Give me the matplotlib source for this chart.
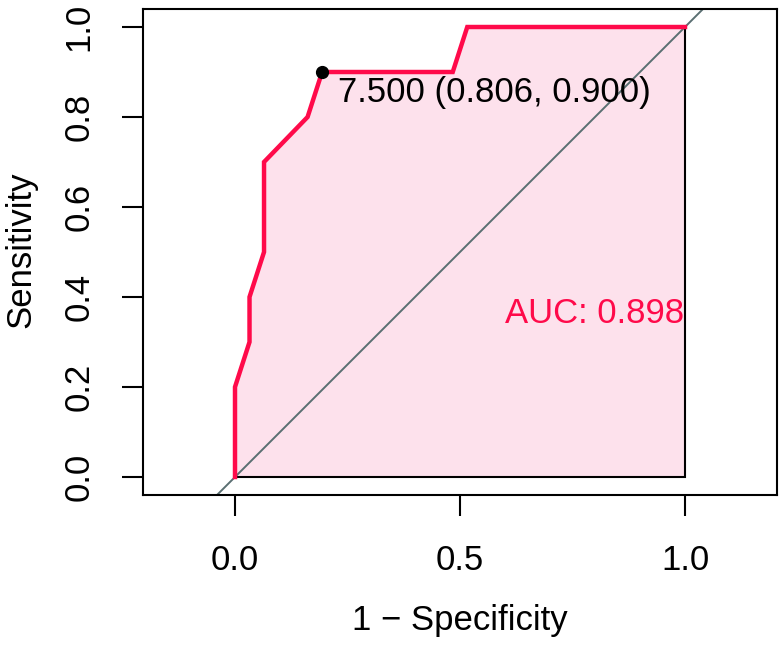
import numpy as np
import matplotlib
matplotlib.use('Agg')
import matplotlib.pyplot as plt

plt.rcParams['font.family'] = ['Liberation Sans', 'DejaVu Sans']

# ROC curve points (31 controls, 10 cases)
fpr = [0, 0, 1/31, 1/31, 2/31, 2/31, 5/31, 6/31, 15/31, 16/31, 1]
tpr = [0, 0.2, 0.3, 0.4, 0.5, 0.7, 0.8, 0.9, 0.9, 1.0, 1.0]

# best threshold
best_thres = 7.5
best_spec = 25/31
best_sens = 0.9

x_ticks = [0.0, 0.5, 1.0]
y_ticks = [0.0, 0.2, 0.4, 0.6, 0.8, 1.0]

red = '#FF0A4A'
fill_col = '#FDE1EC'
grey = '#5A6F72'
fs = 25

auc = np.trapezoid(tpr, fpr)

fig = plt.figure(figsize=(7.84, 6.46), dpi=100)
ax = fig.add_axes([143/784, 1 - 495/646, 634/784, 486/646])

# AUC polygon
ax.fill(fpr + [1], tpr + [0], facecolor=fill_col, edgecolor='black', lw=1.5, zorder=1)
# identity line
ax.axline((0, 0), (1, 1), color=grey, lw=1.4, zorder=2)
# ROC curve
ax.plot(fpr, tpr, color=red, lw=3.2, solid_joinstyle='miter', zorder=3)

# threshold point + label
ax.plot(1 - best_spec, best_sens, 'o', color='black', ms=8.5, zorder=4)
ax.text(0.228, 0.833, f'{best_thres:.3f} ({best_spec:.3f}, {best_sens:.3f})',
        fontsize=fs, ha='left', va='baseline', color='black', zorder=5)
ax.text(0.600, 0.342, f'AUC: {auc:.3f}', fontsize=fs, ha='left', va='baseline',
        color=red, zorder=5)

ax.set_xlim(0.5 - 634/900, 0.5 + 634/900)
ax.set_ylim(-0.04, 1.04)
ax.set_xticks(x_ticks)
ax.set_xticklabels([f'{v:.1f}' for v in x_ticks], fontsize=fs)
ax.set_yticks(y_ticks)
ax.set_yticklabels([f'{v:.1f}' for v in y_ticks], fontsize=fs, rotation=90, va='center')
ax.tick_params(axis='both', length=15, width=1.5)
ax.tick_params(axis='x', pad=20)
ax.tick_params(axis='y', pad=19)
for s in ax.spines.values():
    s.set_linewidth(1.5)

fig.text(460/784, (646 - 630)/646, '1 \u2212 Specificity', fontsize=fs,
         ha='center', va='baseline')
fig.text(30/784, (646 - 250)/646, 'Sensitivity', fontsize=fs, rotation=90,
         rotation_mode='anchor', ha='center', va='baseline')

fig.savefig('out.png', dpi=100)
